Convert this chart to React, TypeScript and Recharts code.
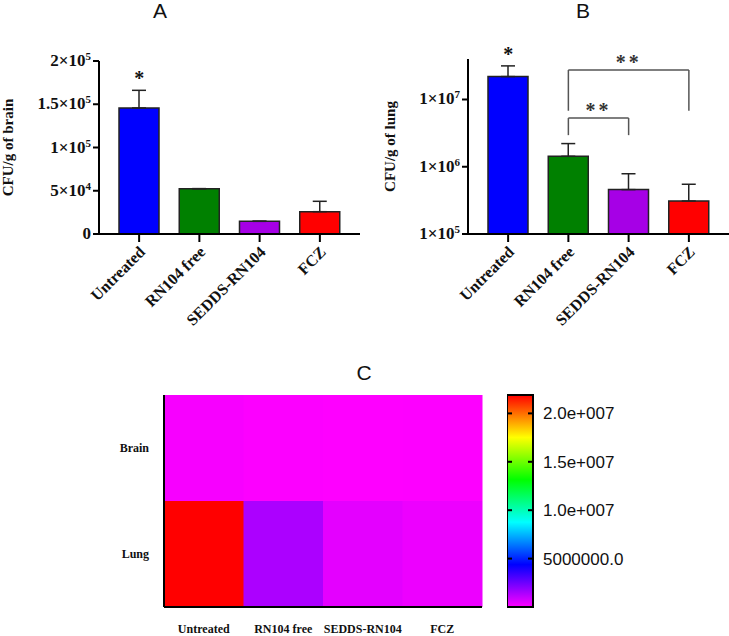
import React from "react";
import {
  BarChart, Bar, Cell, XAxis, YAxis, ErrorBar, ReferenceLine, ReferenceDot,
} from "recharts";

const groups = ["Untreated", "RN104 free", "SEDDS-RN104", "FCZ"];
const barColors = ["#0000ff", "#008000", "#a600e6", "#ff0000"];

// CFU per gram: means and upper SD
const brainMean = [145700, 52400, 14700, 25800];
const brainErr = [20400, 0, 0, 12000];
const lungMean = [21900000, 1430000, 457000, 309000];
const lungErr = [9700000, 780000, 330000, 240000];

const brainTicks = [0, 50000, 100000, 150000, 200000];
const lungTicks = [1e5, 1e6, 1e7];
const lungDomain = [1e5, 4e7];
const brainStars = ["*", "", "", ""];
const lungStars = ["*", "", "", ""];

// significance brackets on the lung panel
const bracketFrom = ["RN104 free", "RN104 free"];
const bracketTo = ["FCZ", "SEDDS-RN104"];
const bracketTop = [2.75e7, 5.3e6];
const bracketFoot = [6.8e6, 2.95e6];
const bracketText = ["**", "**"];

// heat map rows, bottom row first
const organs = ["Lung", "Brain"];
const organValues = [lungMean, brainMean];
const colorbarTicks = [5e6, 1e7, 1.5e7, 2e7];
const rainbow = ["#ff00ff", "#0000ff", "#00ffff", "#00ff00", "#ffff00", "#ff0000"];

const serif = "'Liberation Serif', 'Times New Roman', serif";
const sans = "'Liberation Sans', Arial, sans-serif";
const axisLine = { stroke: "#000", strokeWidth: 2 };

const cMax = Math.max(...lungMean, ...brainMean);
const hex = (s: string) => [1, 3, 5].map((i) => parseInt(s.slice(i, i + 2), 16));
const heatColor = (v: number) => {
  const t = Math.min(1, Math.max(0, v / cMax)) * (rainbow.length - 1);
  const i = Math.min(Math.floor(t), rainbow.length - 2);
  const f = t - i;
  const a = hex(rainbow[i]);
  const b = hex(rainbow[i + 1]);
  return `rgb(${a.map((c, k) => Math.round(c + (b[k] - c) * f)).join(",")})`;
};

const brainData = groups.map((name, i) => ({ name, value: brainMean[i], err: [0, brainErr[i]] }));
const lungData = groups.map((name, i) => ({ name, value: lungMean[i], err: [0, lungErr[i]] }));
const heatData = groups.map((name) => ({ name }));
const scaleData = [{ name: "scale", top: cMax }];

const SciTick = ({ x, y, payload }: any) => {
  const v = payload.value as number;
  const common = { x, y, dy: 5, textAnchor: "end" as const, fontFamily: serif, fontWeight: 700, fontSize: 17, fill: "#111" };
  if (v === 0) return <text {...common}>0</text>;
  const e = Math.floor(Math.log10(v) + 1e-9);
  const m = Math.round((v / 10 ** e) * 100) / 100;
  return (
    <text {...common}>
      {m}×10<tspan dy={-6} fontSize={11}>{e}</tspan>
    </text>
  );
};

const SlantTick = ({ x, y, payload }: any) => (
  <text
    transform={`translate(${x + 7},${y + 9}) rotate(-45)`}
    textAnchor="end" fontFamily={serif} fontWeight={700} fontSize={16} fill="#111"
  >
    {payload.value}
  </text>
);

const AxisTitle = ({ viewBox, value, dx }: any) => {
  const cx = viewBox.x + dx;
  const cy = viewBox.y + viewBox.height / 2;
  return (
    <text
      transform={`translate(${cx},${cy}) rotate(-90)`}
      textAnchor="middle" dominantBaseline="central"
      fontFamily={serif} fontWeight={700} fontSize={15} fill="#111"
    >
      {value}
    </text>
  );
};

const CB_W = 26;
const CB_GAP = 10;
const fmtScale = (v: number) => {
  if (v < 1e7) return v.toFixed(1);
  const e = Math.floor(Math.log10(v));
  return `${(v / 10 ** e).toFixed(1)}e+${String(e).padStart(3, "0")}`;
};

const ScaleTick = ({ x, y, payload }: any) => (
  <g>
    <line x1={x - CB_GAP - 5} x2={x - CB_GAP} y1={y} y2={y} stroke="#000" strokeWidth={2} />
    <line x1={x - CB_GAP - CB_W} x2={x - CB_GAP - CB_W + 5} y1={y} y2={y} stroke="#000" strokeWidth={2} />
    <text x={x} y={y} dy={6} textAnchor="start" fontFamily={sans} fontSize={17} fill="#111">
      {fmtScale(payload.value)}
    </text>
  </g>
);

const starLabel = (value: string) => ({
  value, position: "top" as const, offset: 5, fill: "#111",
  fontSize: 20, fontFamily: serif, fontWeight: 700,
});

const title = (text: string, left: number, top: number) => (
  <div style={{ position: "absolute", left, top, width: 40, textAlign: "center", fontFamily: sans, fontSize: 21, lineHeight: "21px", color: "#111" }}>
    {text}
  </div>
);

const BrainPanel = () => (
  <BarChart width={370} height={340} data={brainData} margin={{ top: 61, right: 10, bottom: 6, left: 0 }}>
    <XAxis
      dataKey="name" interval={0} height={100} padding={{ left: 10, right: 10 }}
      axisLine={axisLine} tickLine={axisLine} tickSize={8} tick={(p: any) => <SlantTick {...p} />}
    />
    <YAxis
      width={99} domain={[0, 200000]} ticks={brainTicks} interval={0}
      axisLine={axisLine} tickLine={axisLine} tickSize={6} tickMargin={2}
      tick={(p: any) => <SciTick {...p} />}
      label={(p: any) => <AxisTitle {...p} value="CFU/g of brain" dx={8} />}
    />
    <Bar dataKey="value" barSize={40} stroke="#222" strokeWidth={1.5} isAnimationActive={false}>
      {groups.map((g, i) => <Cell key={g} fill={barColors[i]} />)}
      <ErrorBar dataKey="err" direction="y" width={7} stroke="#222" strokeWidth={1.5} />
    </Bar>
    {groups.map((g, i) => brainStars[i] ? (
      <ReferenceDot key={g} x={g} y={brainMean[i] + brainErr[i]} r={0} fill="none" stroke="none" label={starLabel(brainStars[i])} />
    ) : null)}
  </BarChart>
);

const LungPanel = () => (
  <BarChart width={360} height={340} data={lungData} margin={{ top: 59, right: 0, bottom: 6, left: 0 }}>
    <XAxis
      dataKey="name" interval={0} height={100} padding={{ left: 10, right: 10 }}
      axisLine={axisLine} tickLine={axisLine} tickSize={8} tick={(p: any) => <SlantTick {...p} />}
    />
    <YAxis
      width={99} scale="log" domain={lungDomain} ticks={lungTicks} interval={0} allowDataOverflow
      axisLine={axisLine} tickLine={axisLine} tickSize={6} tickMargin={2}
      tick={(p: any) => <SciTick {...p} />}
      label={(p: any) => <AxisTitle {...p} value="CFU/g of lung" dx={21} />}
    />
    <Bar dataKey="value" barSize={40} stroke="#222" strokeWidth={1.5} isAnimationActive={false}>
      {groups.map((g, i) => <Cell key={g} fill={barColors[i]} />)}
      <ErrorBar dataKey="err" direction="y" width={7} stroke="#222" strokeWidth={1.5} />
    </Bar>
    {groups.map((g, i) => lungStars[i] ? (
      <ReferenceDot key={g} x={g} y={lungMean[i] + lungErr[i]} r={0} fill="none" stroke="none" label={starLabel(lungStars[i])} />
    ) : null)}
    {bracketText.map((t, i) => [
      <ReferenceLine key={`l${i}`} segment={[{ x: bracketFrom[i], y: bracketFoot[i] }, { x: bracketFrom[i], y: bracketTop[i] }]} stroke="#555" strokeWidth={1.5} />,
      <ReferenceLine key={`r${i}`} segment={[{ x: bracketTo[i], y: bracketFoot[i] }, { x: bracketTo[i], y: bracketTop[i] }]} stroke="#555" strokeWidth={1.5} />,
      <ReferenceLine
        key={`t${i}`}
        segment={[{ x: bracketFrom[i], y: bracketTop[i] }, { x: bracketTo[i], y: bracketTop[i] }]}
        stroke="#555" strokeWidth={1.5}
        label={{ value: t, position: "top", offset: 1, fill: "#333", fontSize: 20, fontFamily: serif, fontWeight: 700, letterSpacing: 3 }}
      />,
    ])}
  </BarChart>
);

const HeatPanel = () => (
  <BarChart width={484} height={256} data={heatData} margin={{ top: 15, right: 2, bottom: 4, left: 0 }} barCategoryGap={0} barGap={0}>
    {organs.map((org, r) => (
      <Bar key={org} dataKey={() => 1} stackId="cells" isAnimationActive={false}>
        {organValues[r].map((v, i) => <Cell key={i} fill={heatColor(v)} />)}
      </Bar>
    ))}
    <XAxis
      dataKey="name" interval={0} height={25} axisLine={axisLine} tickLine={false} tickSize={0} tickMargin={17}
      tick={{ fontFamily: serif, fontWeight: 700, fontSize: 12, fill: "#111" }}
    />
    <XAxis xAxisId="edge" orientation="top" dataKey="name" height={0} axisLine={axisLine} tickLine={false} tick={false} />
    <YAxis
      type="number" width={164} domain={[0, organs.length]} ticks={organs.map((_, i) => i + 0.5)} interval={0}
      tickFormatter={(v: number) => organs[Math.floor(v)]}
      axisLine={axisLine} tickLine={false} tickSize={0} tickMargin={15}
      tick={{ fontFamily: serif, fontWeight: 700, fontSize: 12, fill: "#111" }}
    />
    <YAxis yAxisId="edge" orientation="right" type="number" width={0} domain={[0, organs.length]} axisLine={axisLine} tickLine={false} tick={false} />
  </BarChart>
);

// gradient runs top (max, red) to bottom (0, magenta)
const scaleStops = rainbow.map((c, i) => ({ color: c, offset: 1 - i / (rainbow.length - 1) })).reverse();

const ScalePanel = () => (
  <BarChart width={222} height={256} data={scaleData} margin={{ top: 15, right: 0, bottom: 29, left: 0 }} barCategoryGap={0}>
    <defs>
      <linearGradient id="rainbow" x1="0" y1="0" x2="0" y2="1">
        {scaleStops.map((s) => (
          <stop key={s.color} offset={s.offset} stopColor={s.color} />
        ))}
      </linearGradient>
    </defs>
    <XAxis dataKey="name" hide />
    <YAxis
      orientation="right" width={222 - CB_W} domain={[0, cMax]} ticks={colorbarTicks} interval={0}
      axisLine={false} tickLine={false} tickSize={0} tickMargin={CB_GAP}
      tick={(p: any) => <ScaleTick {...p} />}
    />
    <Bar dataKey="top" fill="url(#rainbow)" stroke="#000" strokeWidth={2} isAnimationActive={false} />
  </BarChart>
);

export default function App() {
  return (
    <div style={{ position: "absolute", left: 0, top: 0, width: 729, height: 636, overflow: "hidden", background: "#fff" }}>
      {title("A", 140, 0)}
      {title("B", 563, 0)}
      {title("C", 344, 362)}
      <div style={{ position: "absolute", left: 0, top: 0 }}><BrainPanel /></div>
      <div style={{ position: "absolute", left: 369, top: 0 }}><LungPanel /></div>
      <div style={{ position: "absolute", left: 0, top: 380 }}><HeatPanel /></div>
      <div style={{ position: "absolute", left: 507, top: 380 }}><ScalePanel /></div>
    </div>
  );
}
